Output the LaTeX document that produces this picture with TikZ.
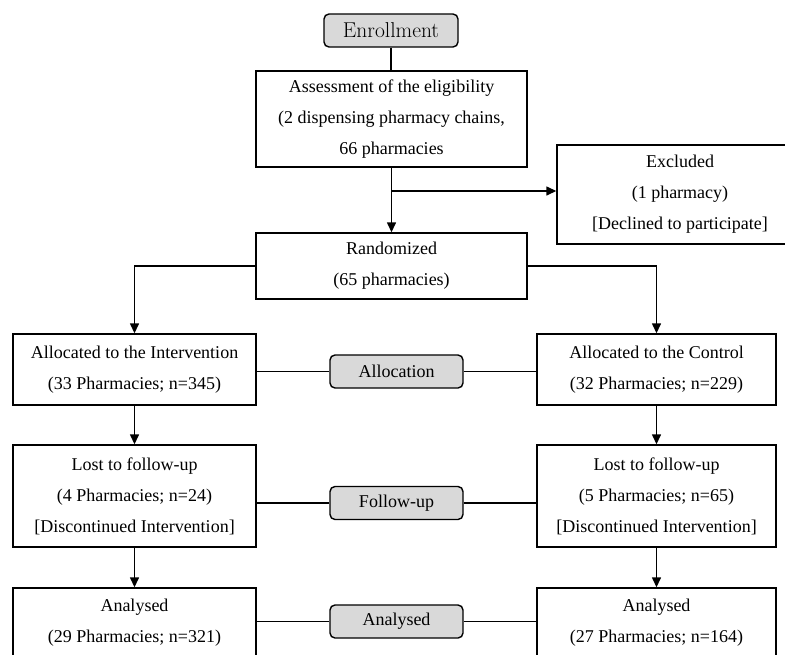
\documentclass[tikz,border=0pt]{standalone}
\usepackage{fontspec}
\newfontfamily\tnr{Liberation Serif}
\usetikzlibrary{arrows.meta}
\definecolor{tagGray}{HTML}{D9D9D9}
\begin{document}
\begin{tikzpicture}[x=1pt,y=-1pt,
  box/.style={draw, line width=1.4pt, inner sep=0pt, align=center, font=\tnr\fontsize{18}{31}\selectfont},
  tag/.style={draw, line width=1.4pt, rounded corners=5pt, fill=tagGray, minimum width=133pt, minimum height=33pt, inner sep=0pt, font=\tnr\fontsize{18}{22}\selectfont},
  conn/.style={line width=1.4pt},
  arr/.style={conn, -{Triangle[length=10pt,width=9pt]}}]
\fill[white] (0,0) rectangle (785,654);
\useasboundingbox (0,0) rectangle (785,654);

\node[tag, font=\fontsize{21.5}{24}\selectfont, minimum width=134pt] (enroll) at (391,30.5) {Enrollment};
\node[box, minimum width=271pt, minimum height=96pt] (assess) at (391.5,119)
  {Assessment of the eligibility\\ (2 dispensing pharmacy chains,\\66 pharmacies};
\node[box, minimum width=246pt, minimum height=99pt] (excl) at (680,194.5)
  {Excluded\\(1 pharmacy)\\{[}Declined to participate{]}};
\node[box, minimum width=271pt, minimum height=66pt] (rand) at (391.5,266)
  {Randomized\\(65 pharmacies)};

\node[box, minimum width=243pt, minimum height=71pt] (interv) at (134.5,369.5)
  {Allocated to the Intervention\\(33 Pharmacies; n=345)};
\node[box, minimum width=239pt, minimum height=71pt] (ctrl) at (656.5,369.5)
  {Allocated to the Control\\(32 Pharmacies; n=229)};
\node[tag] (alloc) at (396.5,371.5) {Allocation};

\node[box, minimum width=243pt, minimum height=102pt] (lostL) at (134.5,496)
  {Lost to follow-up\\(4 Pharmacies; n=24)\\{[}Discontinued Intervention{]}};
\node[box, minimum width=239pt, minimum height=102pt] (lostR) at (656.5,496)
  {Lost to follow-up\\(5 Pharmacies; n=65)\\{[}Discontinued Intervention{]}};
\node[tag] (follow) at (396.5,503) {Follow-up};

\node[box, minimum width=243pt, minimum height=96pt] (analL) at (134.5,636)
  {\strut Analysed\\\strut(29 Pharmacies; n=321)\\\strut};
\node[box, minimum width=239pt, minimum height=96pt] (analR) at (656.5,636)
  {\strut Analysed\\\strut(27 Pharmacies; n=164)\\\strut};
\node[tag] (anal) at (396.5,621.5) {Analysed};

\draw[conn] (enroll.south) -- (enroll.south |- assess.north);
\draw[arr] (assess.south) -- (rand.north);
\coordinate (br) at (391.5,191);
\draw[arr] (br) -- (br -| excl.west);
\draw[arr] (rand.west) -| (interv.north);
\draw[arr] (rand.east) -| (ctrl.north);
\draw[conn] (alloc.west -| interv.east) -- (alloc.west);
\draw[conn] (alloc.east) -- (alloc.east -| ctrl.west);
\draw[arr] (interv.south) -- (lostL.north);
\draw[arr] (ctrl.south) -- (lostR.north);
\draw[conn] (follow.west -| lostL.east) -- (follow.west);
\draw[conn] (follow.east) -- (follow.east -| lostR.west);
\draw[arr] (lostL.south) -- (analL.north);
\draw[arr] (lostR.south) -- (analR.north);
\draw[conn] (anal.west -| analL.east) -- (anal.west);
\draw[conn] (anal.east) -- (anal.east -| analR.west);
\end{tikzpicture}
\end{document}
